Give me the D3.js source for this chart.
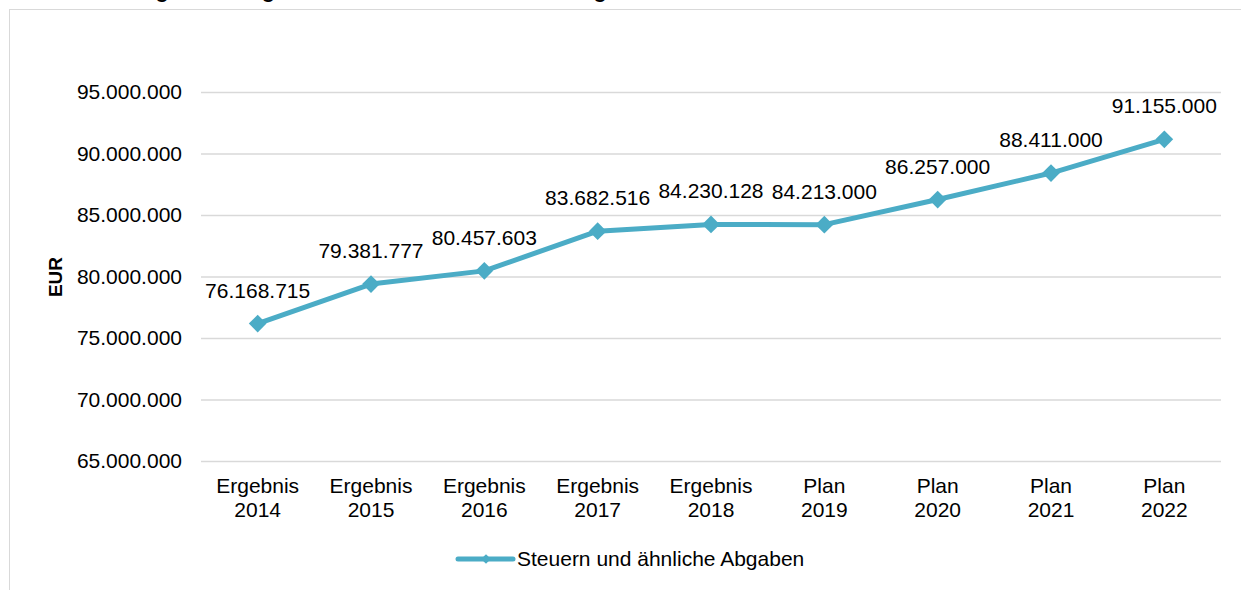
<!DOCTYPE html>
<html>
<head>
<meta charset="utf-8">
<script src="https://cdn.jsdelivr.net/npm/d3@7"></script>
<style>
  body { margin: 0; background: #fff; }
  svg text { font-family: Arial, "Liberation Sans", sans-serif; fill: #000; }
</style>
</head>
<body>
<div id="chart-area"></div>
<script>
// values
var years = ["2014", "2015", "2016", "2017", "2018", "2019", "2020", "2021", "2022"];
var kind = ["Ergebnis", "Ergebnis", "Ergebnis", "Ergebnis", "Ergebnis", "Plan", "Plan", "Plan", "Plan"];
var values = [76168715, 79381777, 80457603, 83682516, 84230128, 84213000, 86257000, 88411000, 91155000];
var yTicks = [65000000, 70000000, 75000000, 80000000, 85000000, 90000000, 95000000];
var seriesName = "Steuern und ähnliche Abgaben";
var chartTitle = "Entwicklung der Erträge aus Steuern und ähnlichen Abgaben";

var width = 1241, height = 590;
var lineColor = "#4bacc6";
var gridColor = "#d9d9d9";
var fs = "21px";

var de = d3.formatLocale({decimal: ",", thousands: ".", grouping: [3], currency: ["", " €"]});
var fmt = de.format(",d");

var svg = d3.select("#chart-area").append("svg").attr("width", width).attr("height", height);

// chart frame (cut off at right and bottom)
svg.append("rect").attr("x", 9.5).attr("y", 9.5).attr("width", 1300).attr("height", 700)
  .attr("fill", "none").attr("stroke", gridColor).attr("stroke-width", 1);

// title, mostly above the visible area
svg.append("text").attr("x", 45).attr("y", -2).attr("font-size", "21px").attr("font-weight", "bold")
  .text(chartTitle);

var data = years.map(function(y, i) { return {key: kind[i] + " " + y, kind: kind[i], year: y, value: values[i]}; });

var x = d3.scalePoint().domain(data.map(function(d) { return d.key; })).range([201, 1221]).padding(0.5);
var y = d3.scaleLinear().domain([65000000, 95000000]).range([461, 92]);

// gridlines + y labels
var yAxis = d3.axisLeft(y).tickValues(yTicks).tickSize(-(1221 - 201)).tickFormat(fmt).tickPadding(19);
var yG = svg.append("g").attr("transform", "translate(201,0)").call(yAxis);
yG.select(".domain").remove();
yG.selectAll(".tick line").attr("stroke", gridColor).attr("stroke-width", 1.5);
yG.selectAll(".tick text").attr("font-size", fs).attr("fill", "#000")
  .style("font-family", "Arial, 'Liberation Sans', sans-serif");

// y title
svg.append("text").attr("transform", "translate(62,277) rotate(-90)").attr("text-anchor", "middle")
  .attr("font-size", "19px").attr("font-weight", "bold").text("EUR");

// x labels (two lines)
var xG = svg.append("g").selectAll("g").data(data).enter().append("g")
  .attr("transform", function(d) { return "translate(" + x(d.key) + ",0)"; });
xG.append("text").attr("y", 493).attr("text-anchor", "middle").attr("font-size", fs).text(function(d) { return d.kind; });
xG.append("text").attr("y", 517).attr("text-anchor", "middle").attr("font-size", fs).text(function(d) { return d.year; });

// line
var line = d3.line().x(function(d) { return x(d.key); }).y(function(d) { return y(d.value); });
svg.append("path").datum(data).attr("d", line).attr("fill", "none")
  .attr("stroke", lineColor).attr("stroke-width", 5).attr("stroke-linejoin", "round");

var diamond = d3.symbol().type(d3.symbolDiamond2).size(200);
svg.selectAll(".marker").data(data).enter().append("path").attr("class", "marker")
  .attr("d", diamond)
  .attr("transform", function(d) { return "translate(" + x(d.key) + "," + y(d.value) + ")"; })
  .attr("fill", lineColor);

// data labels
svg.selectAll(".dlabel").data(data).enter().append("text").attr("class", "dlabel")
  .attr("x", function(d) { return x(d.key); })
  .attr("y", function(d) { return y(d.value) - 26; })
  .attr("text-anchor", "middle").attr("font-size", fs)
  .text(function(d) { return fmt(d.value); });

// legend
var legend = svg.append("g").attr("transform", "translate(458,559)");
legend.append("line").attr("x1", 0).attr("x2", 55).attr("stroke", lineColor).attr("stroke-width", 5).attr("stroke-linecap", "round");
legend.append("path").attr("d", d3.symbol().type(d3.symbolDiamond2).size(60)).attr("transform", "translate(28,0)").attr("fill", lineColor);
legend.append("text").attr("x", 59).attr("y", 7).attr("font-size", fs).text(seriesName);
</script>
</body>
</html>
